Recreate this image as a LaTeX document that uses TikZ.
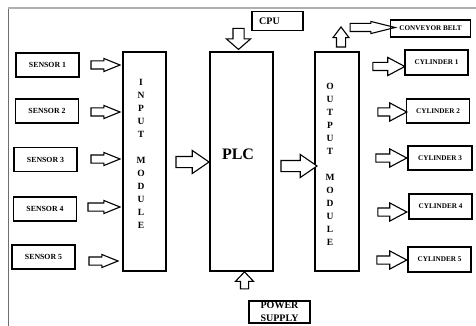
\documentclass[tikz,border=0pt]{standalone}
\usepackage{fontspec}
\setmainfont{Liberation Serif}
\usepackage{tikz}
\usetikzlibrary{
  shapes.arrows,
  positioning
}
\definecolor{xframe}{RGB}{110,110,110}
\definecolor{xframetop}{RGB}{175,175,175}

\begin{document}
\begin{tikzpicture}[
  x=1pt, y=-1pt,
  unit/.style={draw, line width=1.3pt, inner sep=0pt,
               minimum width=63pt, minimum height=24pt,
               font=\fontsize{7.8}{9}\selectfont\bfseries},
  outunit/.style={unit, font=\fontsize{7.2}{9}\selectfont\bfseries},
  module/.style={draw, line width=1.3pt, inner sep=0pt,
                 minimum height=219pt},
  modtext/.style={inner sep=0pt, align=center,
                  font=\fontsize{9.5}{13}\selectfont\bfseries},
  bigbox/.style={draw, line width=1.3pt, inner sep=0pt, align=center,
                 font=\fontsize{10}{13}\selectfont\bfseries},
  blockarr/.style={single arrow, draw, line width=1.1pt, fill=white,
                   inner xsep=0pt, single arrow head indent=0pt},
  sensarr/.style={blockarr, minimum height=29pt, inner ysep=3.5pt,
                  single arrow head extend=2.5pt, single arrow tip angle=44},
  cylarr/.style={blockarr, minimum height=31pt, inner ysep=3.5pt,
                 single arrow head extend=5pt, single arrow tip angle=56},
  modarr/.style={blockarr, minimum height=33pt, inner ysep=5pt,
                 single arrow head extend=6pt, single arrow tip angle=69}
]
  \useasboundingbox (0,0) rectangle (476,326);
  \clip (0,0) rectangle (476,326);

  % frame
  \draw[xframe, line width=1pt] (8,326) -- (8,8);
  \draw[xframetop, line width=1.3pt] (8,8) -- (476,8);

  % sensors
  \node[unit] (sensor1) at (47.5,65)  {SENSOR 1};
  \node[unit] (sensor2) at (47,111)   {SENSOR 2};
  \node[unit] (sensor3) at (45.5,159.5) {SENSOR 3};
  \node[unit] (sensor4) at (45,209)   {SENSOR 4};
  \node[unit] (sensor5) at (43.5,257) {SENSOR 5};

  \node[sensarr] (sarr1) at (100.5,65)  {};
  \node[sensarr] (sarr2) at (100.5,112) {};
  \node[sensarr] (sarr3) at (100.5,159) {};
  \node[sensarr, minimum height=32pt] (sarr4) at (99,207) {};
  \node[sensarr] (sarr5) at (98.5,261) {};

  % modules
  \node[module, minimum width=43pt] (inmod)  at (144.5,161.5) {};
  \node[modtext] (inlabel) at (141,154) {I\\N\\P\\U\\T\\[13pt]M\\O\\D\\U\\L\\E};

  \node[module, minimum width=63pt] (plc) at (241.5,161.5) {};
  \node[inner sep=0pt, font=\fontsize{16}{18}\selectfont\bfseries] (plclabel) at (238,154) {PLC};

  \node[module, minimum width=44pt] (outmod) at (337,161.5) {};
  \node[modtext] (outlabel) at (330,164) {O\\U\\T\\P\\U\\T\\[13pt]M\\O\\D\\U\\L\\E};

  \node[modarr] (inplc)  at (188.5,162) {};
  \node[modarr, minimum height=36pt] (plcout) at (295,166) {};

  % CPU and power supply
  \node[bigbox, minimum width=51pt, minimum height=19pt] (cpu) at (277.5,21) {\hspace*{-16pt}CPU};
  \node[blockarr, rotate=-90, minimum height=21pt, inner ysep=5pt,
        single arrow head extend=6.5pt, single arrow tip angle=98] (cpuarr) at (238.5,36.5) {};

  \node[bigbox, minimum width=61pt, minimum height=22pt] (power) at (279.5,312) {POWER\\SUPPLY};
  \node[blockarr, rotate=90, minimum height=17pt, inner ysep=3.5pt,
        single arrow head extend=5pt, single arrow tip angle=87] (powarr) at (244.5,282.5) {};

  % conveyor belt
  \node[blockarr, rotate=90, minimum height=20pt, inner ysep=4pt,
        single arrow head extend=3.5pt, single arrow tip angle=74] (uparr) at (341,40) {};
  \node[blockarr, minimum height=45pt, inner ysep=3.5pt,
        single arrow head extend=2pt, single arrow tip angle=28] (beltarr) at (364.5,27.5) {};
  \node[outunit, minimum width=80pt, minimum height=17pt] (belt) at (430.5,28.5) {CONVEYOR BELT};

  % cylinders
  \node[outunit, minimum height=25pt] (cyl1) at (436.5,62.5) {CYLINDER 1};
  \node[outunit] (cyl2) at (438,111)   {CYLINDER 2};
  \node[outunit, minimum width=64pt] (cyl3) at (440,158) {CYLINDER 3};
  \node[outunit, minimum height=25pt] (cyl4) at (440.5,206.5) {CYLINDER 4};
  \node[outunit, minimum height=25pt] (cyl5) at (439.5,259.5) {CYLINDER 5};

  \node[cylarr, minimum height=32pt] (carr1) at (385,66.5) {};
  \node[cylarr, minimum height=29pt] (carr2) at (388.5,112) {};
  \node[cylarr] (carr3) at (387.5,158) {};
  \node[cylarr, minimum height=29pt] (carr4) at (388.5,212) {};
  \node[cylarr, minimum height=30pt] (carr5) at (388,260) {};
\end{tikzpicture}
\end{document}
